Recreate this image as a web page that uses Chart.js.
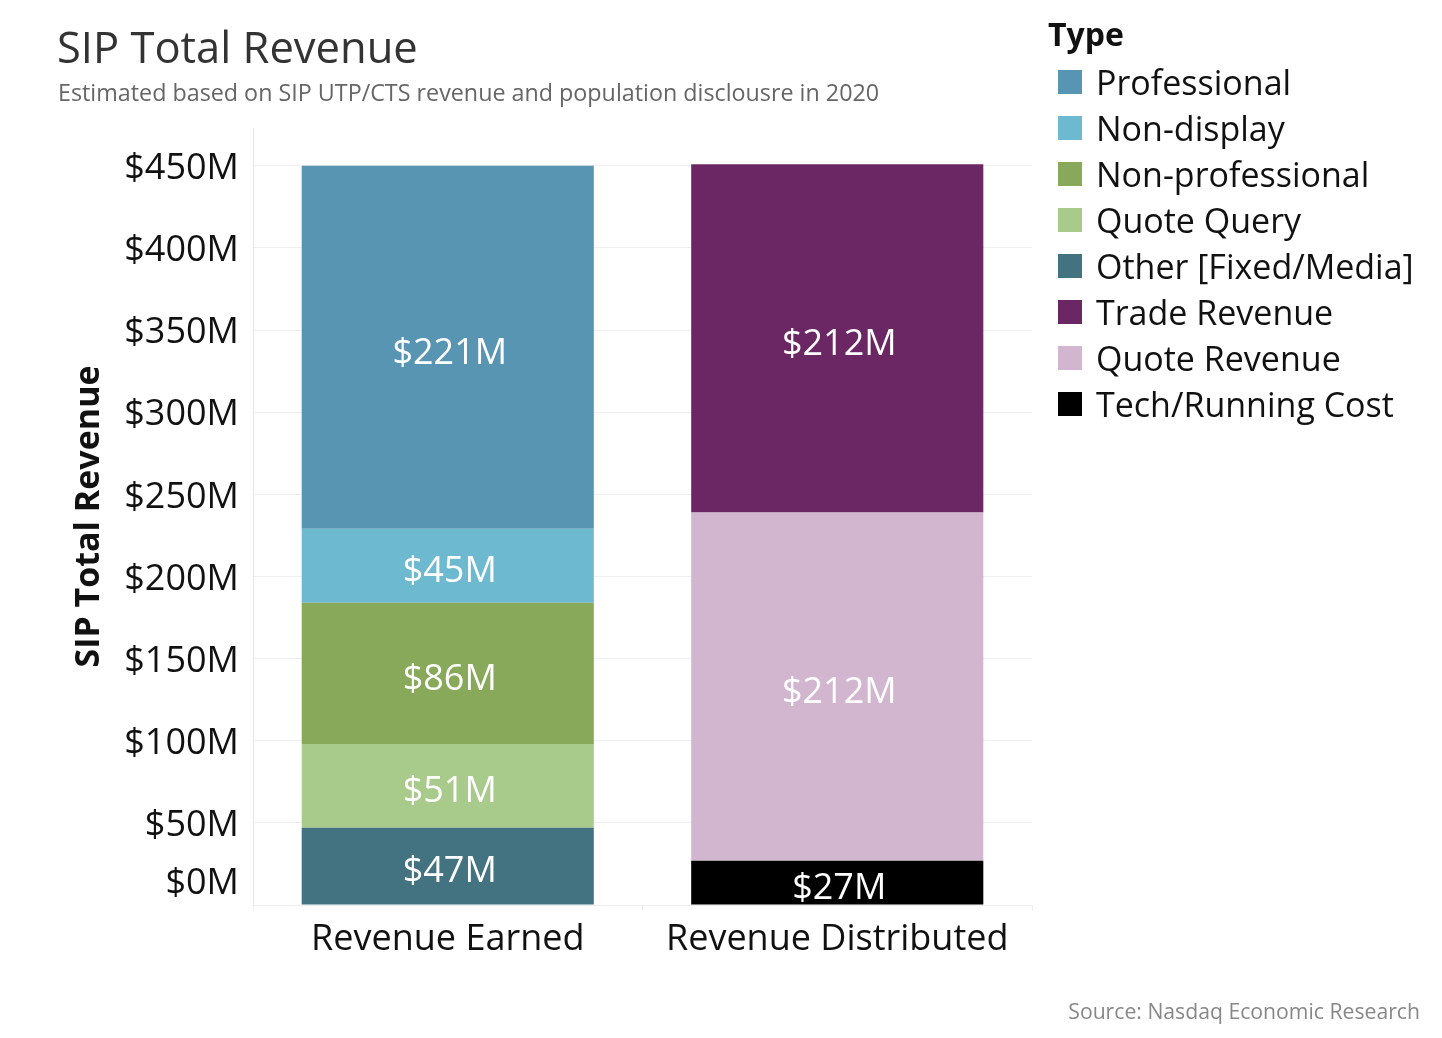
<!DOCTYPE html>
<html>
<head>
<meta charset="utf-8">
<script src="https://cdn.jsdelivr.net/npm/chart.js@4.4.1/dist/chart.umd.min.js"></script>
<style>
  html, body { margin:0; padding:0; background:#ffffff; }
  body { width:1442px; height:1038px; position:relative; overflow:hidden; font-family:"Open Sans", "Noto Sans", sans-serif; }
  #c { position:absolute; left:0; top:0; }
  .title { position:absolute; left:57px; top:19px; font-size:43.5px; color:#333; line-height:56px; white-space:nowrap; }
  .subtitle { position:absolute; left:58px; top:77px; font-size:23.3px; color:#666; line-height:30px; white-space:nowrap; }
  .source { position:absolute; right:22px; top:997px; font-size:21.2px; color:#888; line-height:28px; white-space:nowrap; }
  #legend { position:absolute; left:1048px; top:14px; }
  #legend .lt { font-size:32px; font-weight:bold; color:#111; line-height:40px; margin-bottom:5px; }
  #legend .it { display:flex; align-items:center; height:46px; font-size:34px; color:#111; white-space:nowrap; }
  #legend .sw { width:24px; height:24px; margin-left:10px; margin-right:14px; }
</style>
</head>
<body>
<canvas id="c" width="1442" height="1038"></canvas>
<div class="title">SIP Total Revenue</div>
<div class="subtitle">Estimated based on SIP UTP/CTS revenue and population disclousre in 2020</div>
<div id="legend"></div>
<div class="source">Source: Nasdaq Economic Research</div>
<script>
// ---- data ----
const categories = ["Revenue Earned", "Revenue Distributed"];
const seriesNames = ["Professional", "Non-display", "Non-professional", "Quote Query", "Other [Fixed/Media]", "Trade Revenue", "Quote Revenue", "Tech/Running Cost"];
const professional     = [221, null];
const nonDisplay       = [45, null];
const nonProfessional  = [86, null];
const quoteQuery       = [51, null];
const otherFixedMedia  = [47, null];
const tradeRevenue     = [null, 212];
const quoteRevenue     = [null, 212];
const techRunningCost  = [null, 27];
const yTicks = [0, 50, 100, 150, 200, 250, 300, 350, 400, 450];
const yAxisMax = 473;

// ---- styles ----
const colors = {
  "Professional": "#5795b3",
  "Non-display": "#6db9cf",
  "Non-professional": "#87a959",
  "Quote Query": "#a8ca8a",
  "Other [Fixed/Media]": "#437380",
  "Trade Revenue": "#6a2763",
  "Quote Revenue": "#d2b6cf",
  "Tech/Running Cost": "#000000"
};
const valuesByName = {
  "Professional": professional,
  "Non-display": nonDisplay,
  "Non-professional": nonProfessional,
  "Quote Query": quoteQuery,
  "Other [Fixed/Media]": otherFixedMedia,
  "Trade Revenue": tradeRevenue,
  "Quote Revenue": quoteRevenue,
  "Tech/Running Cost": techRunningCost
};
// stacking order, bottom first
const stackOrder = ["Other [Fixed/Media]", "Quote Query", "Non-professional", "Non-display", "Professional", "Tech/Running Cost", "Quote Revenue", "Trade Revenue"];

const FONT = '"Open Sans", "Noto Sans", sans-serif';

// legend (HTML)
const lg = document.getElementById('legend');
lg.innerHTML = '<div class="lt">Type</div>' + seriesNames.map(n =>
  `<div class="it"><span class="sw" style="background:${colors[n]}"></span>${n}</div>`).join('');

const datasets = stackOrder.map(n => ({
  label: n,
  data: valuesByName[n],
  backgroundColor: colors[n],
  borderWidth: 0,
  stack: 's',
  categoryPercentage: 1.0,
  barPercentage: 0.75
}));

const labelPlugin = {
  id: 'segLabels',
  afterDatasetsDraw(chart) {
    const ctx = chart.ctx;
    ctx.save();
    ctx.font = '36px ' + FONT;
    ctx.fillStyle = '#ffffff';
    ctx.textAlign = 'center';
    ctx.textBaseline = 'middle';
    chart.data.datasets.forEach((ds, i) => {
      const meta = chart.getDatasetMeta(i);
      meta.data.forEach((bar, j) => {
        const v = ds.data[j];
        if (v == null) return;
        const yMid = (bar.y + bar.base) / 2;
        ctx.fillText('$' + v + 'M', bar.x + 2, yMid + 6);
      });
    });
    ctx.restore();
  }
};

// Tableau lifts the bottom "$0M" label above the baseline
const zeroLabelPlugin = {
  id: 'zeroLabel',
  afterDraw(chart) {
    const y = chart.scales.y;
    const ctx = chart.ctx;
    ctx.save();
    ctx.font = '36px ' + FONT;
    ctx.fillStyle = '#111';
    ctx.textAlign = 'right';
    ctx.textBaseline = 'middle';
    ctx.fillText('$' + yTicks[0] + 'M', y.right - 14, y.getPixelForValue(yTicks[0]) - 21);
    ctx.restore();
  }
};

new Chart(document.getElementById('c'), {
  type: 'bar',
  data: { labels: categories, datasets },
  options: {
    responsive: false,
    animation: false,
    devicePixelRatio: 1,
    layout: { padding: { left: 60, top: 128, right: 410, bottom: 73 } },
    plugins: { legend: { display: false }, tooltip: { enabled: false }, title: { display: false } },
    scales: {
      x: {
        stacked: true,
        grid: { display: true, drawOnChartArea: false, drawTicks: true, tickLength: 6, color: '#eeeeee', offset: true },
        border: { display: true, color: '#eeeeee' },
        ticks: { font: { family: FONT, size: 36 }, color: '#111', padding: 7 },
        afterFit(s) { s.height = 60; }
      },
      y: {
        stacked: true,
        min: 0,
        max: yAxisMax,
        afterBuildTicks(s) { s.ticks = yTicks.map(v => ({ value: v })); },
        grid: { color: '#efefef', drawTicks: false },
        border: { display: true, color: '#e8e8e8' },
        ticks: {
          font: { family: FONT, size: 36 }, color: '#111', padding: 14, labelOffset: 3,
          callback: v => v === 0 ? '' : '$' + v + 'M'
        },
        title: { display: true, text: 'SIP Total Revenue', font: { family: FONT, size: 34, weight: 'bold' }, color: '#111', padding: { top: 9, bottom: 0 } },
        afterFit(s) { s.width = 193; }
      }
    }
  },
  plugins: [labelPlugin, zeroLabelPlugin]
});
</script>
</body>
</html>
